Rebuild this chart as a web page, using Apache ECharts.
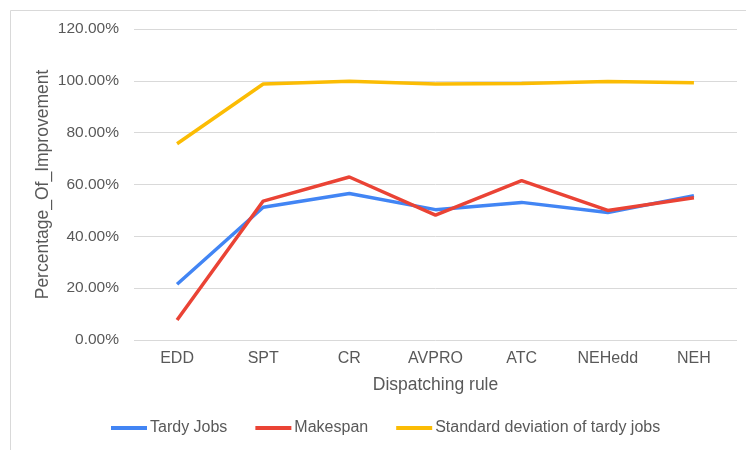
<!DOCTYPE html>
<html>
<head>
<meta charset="utf-8">
<script src="https://cdn.jsdelivr.net/npm/echarts@6/dist/echarts.min.js"></script>
<style>
  html, body { margin: 0; padding: 0; background: #fff; }
  #chart { width: 746px; height: 450px; }
</style>
</head>
<body>
<div id="chart"></div>
<script>
// categories and series values (percent)
var rules = ['EDD', 'SPT', 'CR', 'AVPRO', 'ATC', 'NEHedd', 'NEH'];
var tardyJobs = [21.5, 51.2, 56.5, 50.3, 53.1, 49.2, 55.7];
var makespan = [7.7, 53.6, 62.9, 48.2, 61.5, 50.0, 54.9];
var stdTardy = [75.7, 98.8, 99.8, 98.8, 99.0, 99.7, 99.3];

var font = 'Liberation Sans, Arial, sans-serif';
var grey = '#595959';

var chart = echarts.init(document.getElementById('chart'));

function line(name, data, color) {
  return {
    name: name,
    type: 'line',
    data: data,
    showSymbol: false,
    symbol: 'none',
    lineStyle: { color: color, width: 3.5 },
    itemStyle: { color: color },
    animation: false
  };
}

var option = {
  backgroundColor: '#fff',
  animation: false,
  graphic: [{
    type: 'rect',
    shape: { x: 10.5, y: 10.5, width: 800, height: 500 },
    style: { fill: 'none', stroke: '#d9d9d9', lineWidth: 1 },
    silent: true
  }],
  grid: { left: 134, right: 9, top: 29, bottom: 110 },
  legend: {
    bottom: 9,
    left: 106,
    itemWidth: 36,
    itemHeight: 4,
    itemGap: 28,
    icon: 'rect',
    textStyle: { color: grey, fontSize: 16, fontFamily: font, padding: [0, 0, 0, -2] },
    data: ['Tardy Jobs', 'Makespan', 'Standard deviation of tardy jobs']
  },
  xAxis: {
    type: 'category',
    data: rules,
    boundaryGap: true,
    name: 'Dispatching rule',
    nameLocation: 'middle',
    nameGap: 36,
    nameTextStyle: { color: grey, fontSize: 17.5, fontFamily: font },
    axisLine: { show: false },
    axisTick: { show: false },
    axisLabel: { color: grey, fontSize: 16, fontFamily: font, margin: 11 }
  },
  yAxis: {
    type: 'value',
    min: 0, max: 120, interval: 20,
    name: 'Percentage_Of_Improvement',
    nameLocation: 'middle',
    nameGap: 82,
    nameMoveOverlap: false,
    nameTextStyle: { color: grey, fontSize: 17.5, fontFamily: font },
    axisLine: { show: false },
    axisTick: { show: false },
    splitLine: { lineStyle: { color: '#d9d9d9', width: 1 } },
    axisLabel: {
      color: grey, fontSize: 15.5, fontFamily: font, margin: 15,
      formatter: function (v) { return v.toFixed(2) + '%'; }
    }
  },
  series: [
    line('Tardy Jobs', tardyJobs, '#4285F4'),
    line('Makespan', makespan, '#EA4335'),
    line('Standard deviation of tardy jobs', stdTardy, '#FBBC04')
  ]
};

chart.setOption(option);
</script>
</body>
</html>
